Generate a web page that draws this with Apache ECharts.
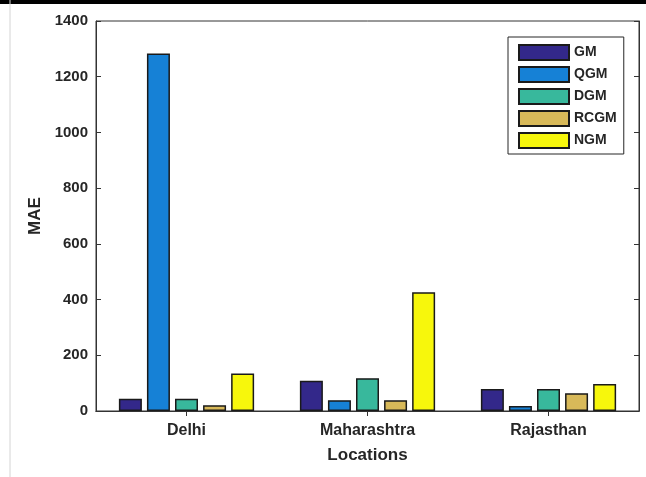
<!DOCTYPE html>
<html>
<head>
<meta charset="utf-8">
<script src="https://cdn.jsdelivr.net/npm/echarts@6/dist/echarts.min.js"></script>
<style>html,body{margin:0;padding:0;background:#fff}#c{width:646px;height:477px}</style>
</head>
<body>
<div id="c"></div>
<script>
const categories = ['Delhi', 'Maharashtra', 'Rajasthan'];
const seriesNames = ['GM', 'QGM', 'DGM', 'RCGM', 'NGM'];
const GM = [44, 109, 79];
const QGM = [1283, 39, 18];
const DGM = [44, 118, 79];
const RCGM = [21, 39, 64];
const NGM = [135, 426, 97];
const yTicks = [0, 200, 400, 600, 800, 1000, 1200, 1400];
const colors = ['#33288a', '#1681d6', '#38b89c', '#d8b959', '#f7f70c'];
const values = [GM, QGM, DGM, RCGM, NGM];

const font = '"Liberation Sans", Arial, sans-serif';
const axisColor = '#333333';
const chart = echarts.init(document.getElementById('c'), null, {renderer: 'canvas'});
chart.setOption({
  animation: false,
  backgroundColor: '#ffffff',
  grid: {left: 96, right: 7, top: 21, bottom: 66, show: true, borderColor: axisColor, borderWidth: 1, backgroundColor: '#fff'},
  legend: {
    orient: 'vertical', left: 508, top: 37,
    padding: [7, 7, 5, 10],
    itemWidth: 50, itemHeight: 15, itemGap: 5,
    borderColor: '#262626', borderWidth: 1, backgroundColor: '#fff',
    icon: 'rect',
    data: seriesNames,
    textStyle: {fontFamily: font, fontWeight: 'bold', fontSize: 14, color: '#262626'}
  },
  xAxis: [{
    type: 'category', data: categories, position: 'bottom',
    name: 'Locations', nameLocation: 'middle', nameGap: 36,
    nameTextStyle: {fontFamily: font, fontWeight: 'bold', fontSize: 17, color: '#262626'},
    axisLine: {show: true, lineStyle: {color: axisColor}},
    axisTick: {show: true, inside: true, alignWithLabel: true, length: 5, lineStyle: {color: axisColor}},
    axisLabel: {fontFamily: font, fontWeight: 'bold', fontSize: 16, color: '#262626', margin: 12}
  }, {
    type: 'category', data: categories, position: 'top',
    axisLine: {show: true, lineStyle: {color: axisColor}},
    axisTick: {show: true, inside: true, alignWithLabel: true, length: 5, lineStyle: {color: axisColor}},
    axisLabel: {show: false}
  }],
  yAxis: [{
    type: 'value', min: yTicks[0], max: yTicks[yTicks.length - 1], interval: 200, position: 'left',
    name: 'MAE', nameLocation: 'middle', nameGap: 47,
    nameTextStyle: {fontFamily: font, fontWeight: 'bold', fontSize: 17, color: '#262626'},
    axisLine: {show: true, lineStyle: {color: axisColor}},
    axisTick: {show: true, inside: true, length: 5, lineStyle: {color: axisColor}},
    splitLine: {show: false},
    axisLabel: {fontFamily: font, fontWeight: 'bold', fontSize: 15, color: '#262626', margin: 8, formatter: v => String(v)}
  }, {
    type: 'value', min: yTicks[0], max: yTicks[yTicks.length - 1], interval: 200, position: 'right',
    axisLine: {show: true, lineStyle: {color: axisColor}},
    axisTick: {show: true, inside: true, length: 5, lineStyle: {color: axisColor}},
    splitLine: {show: false},
    axisLabel: {show: false}
  }],
  series: seriesNames.map((n, i) => ({
    name: n, type: 'bar', data: values[i],
    barWidth: 23, barGap: '22%',
    itemStyle: {color: colors[i], borderColor: '#1a1a1a', borderWidth: 1.5}
  })),
  graphic: [
    {type: 'rect', left: 0, top: 0, shape: {width: 646, height: 4}, style: {fill: '#000'}},
    {type: 'line', shape: {x1: 10, y1: 0, x2: 10, y2: 477}, style: {stroke: '#d4d4d4', lineWidth: 1}}
  ]
});
</script>
</body>
</html>
